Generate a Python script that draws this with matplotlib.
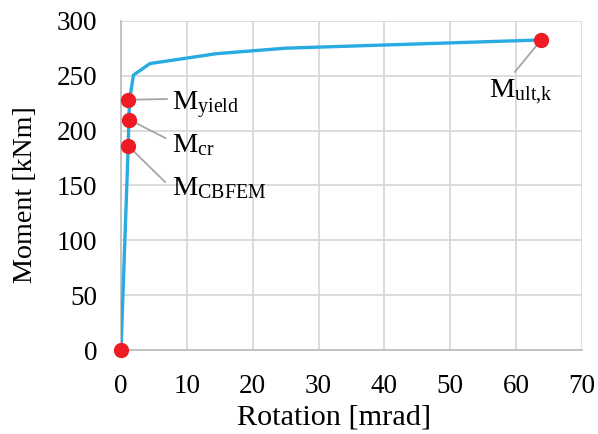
import matplotlib
matplotlib.use("Agg")
import matplotlib.pyplot as plt

plt.rcParams['font.family'] = ['Liberation Serif', 'DejaVu Serif']
plt.rcParams['mathtext.fontset'] = 'custom'
plt.rcParams['mathtext.rm'] = 'Liberation Serif'
plt.rcParams['mathtext.it'] = 'Liberation Serif:italic'

# curve data
rotation = [0, 1.1, 1.2, 1.3, 1.9, 4.4, 14.5, 25, 63.8]
moment = [0, 186, 210, 228, 250.5, 261, 270, 275, 282.5]

# marked points
pt_names = ['M$_{\\mathrm{yield}}$', 'M$_{\\mathrm{cr}}$', 'M$_{\\mathrm{CBFEM}}$', 'M$_{\\mathrm{ult{,}k}}$', '']
pt_rot = [1.1, 1.2, 1.1, 63.8, 0]
pt_mom = [228, 210, 186, 282.5, 0]

xticks = [0, 10, 20, 30, 40, 50, 60, 70]
yticks = [0, 50, 100, 150, 200, 250, 300]

blue = '#29abe2'
red = '#ed1c24'
grey = '#a6a6a6'

fig = plt.figure(figsize=(5.98, 4.34), dpi=100)
ax = fig.add_axes([0.2023, 0.1935, 0.7709, 0.7587])

ax.plot(rotation, moment, color=blue, lw=2.4, zorder=3, solid_joinstyle='miter')
ax.plot(pt_rot, pt_mom, 'o', color=red, ms=10, zorder=4, clip_on=False)

# leader lines and labels (end of line, text position)
line_end = [(7.0, 228.7), (6.8, 193), (6.7, 153), (59.8, 253.3)]
text_pos = [(7.7, 218.6), (7.7, 180.4), (7.7, 141.2), (55.9, 229.6)]
for i in range(4):
    ax.annotate('', xy=(pt_rot[i], pt_mom[i]), xytext=line_end[i],
                arrowprops=dict(arrowstyle='-', color=grey, lw=1.3,
                                shrinkA=0, shrinkB=5), zorder=2)
    ax.text(text_pos[i][0], text_pos[i][1], pt_names[i], fontsize=20.5,
            ha='left', va='baseline', zorder=5)

ax.set_xlim(0, 70)
ax.set_ylim(0, 300)
ax.set_xticks(xticks)
ax.set_yticks(yticks)
ax.tick_params(length=0, labelsize=19.5, colors='black')
ax.tick_params(axis='x', pad=17)
ax.tick_params(axis='y', pad=17)
ax.grid(True, color='#d9d9d9', lw=1.3)
ax.set_axisbelow(True)
for s in ['top', 'right']:
    ax.spines[s].set_visible(False)
for s in ['left', 'bottom']:
    ax.spines[s].set_color('#bfbfbf')
    ax.spines[s].set_linewidth(1.3)

ax.set_xlabel('Rotation [mrad]', fontsize=21.8)
ax.set_ylabel('Moment [kNm]', fontsize=20.2)
ax.xaxis.set_label_coords(0.462, -0.205)
ax.yaxis.set_label_coords(-0.207, 0.473)
ax.yaxis.label.set_va('center')
ax.xaxis.label.set_va('center')

fig.savefig('out.png', dpi=100)
